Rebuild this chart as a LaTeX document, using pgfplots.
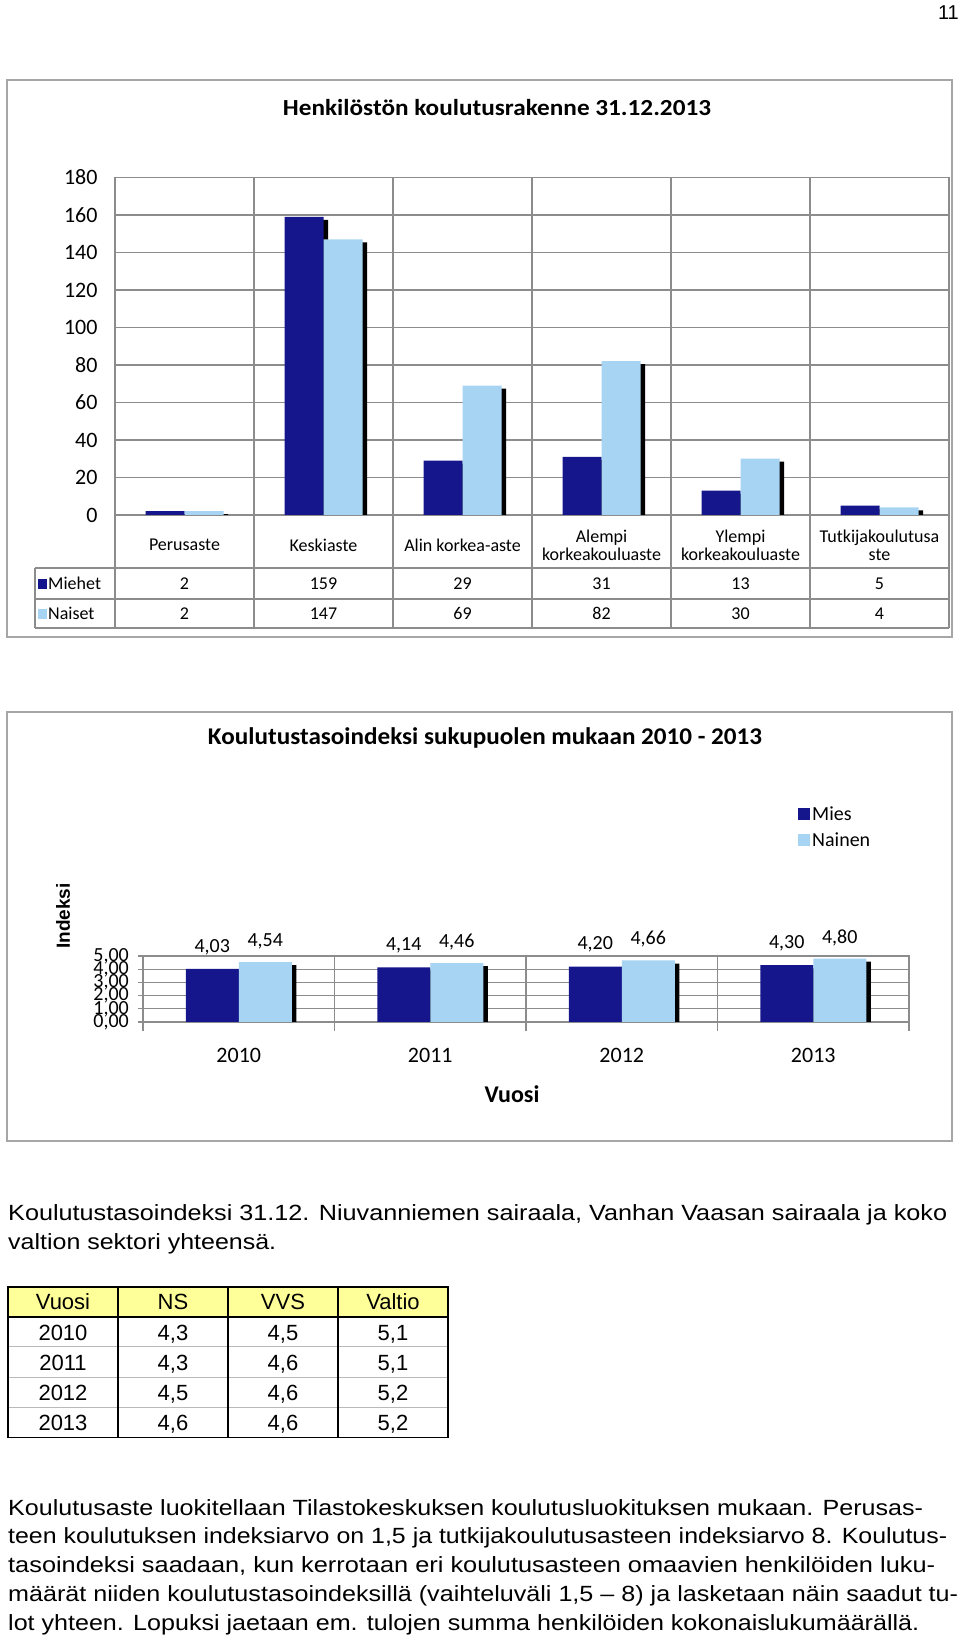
\documentclass[border=0pt]{standalone}
\usepackage{graphicx}
\usepackage{pgfplots}
\pgfplotsset{compat=1.18}
\usepackage{pgfplotstable}
\usepackage{fontspec}
\setmainfont{Liberation Sans}
\newfontfamily\calib{Carlito}
\definecolor{navy}{HTML}{16168C}
\definecolor{lblue}{HTML}{A8D4F4}
\definecolor{gridc}{HTML}{8C8C8C}
\definecolor{framec}{HTML}{A6A6A6}
\definecolor{hdr}{HTML}{FFFF99}
\newcommand{\fw}[2]{\resizebox{#1}{\height}{#2}}
\newcommand{\fs}[1]{\fontsize{#1}{#1}\selectfont}

\pgfplotstableread{
x m n
0 2 2
1 159 147
2 29 69
3 31 82
4 13 30
5 5 4
}\dataA
\pgfplotstableread{
x m n
0 4.03 4.54
1 4.14 4.46
2 4.20 4.66
3 4.30 4.80
}\dataB

\begin{document}
\begin{tikzpicture}
\path[use as bounding box, fill=white] (0pt,0pt) rectangle (960pt,1642pt);
% page number
\node[anchor=east, font=\fs{20}, inner sep=0pt] at (959pt,1629pt) {11};

% ================= Chart 1 =================
\draw[framec, line width=2pt] (7pt,1005pt) rectangle (952pt,1562pt);
\node[font=\calib\bfseries\fs{23}] at (497pt,1534pt) {\fw{428pt}{Henkilöstön koulutusrakenne 31.12.2013}};
\begin{axis}[at={(115pt,1127pt)}, anchor=south west, scale only axis,
  width=834pt, height=337.5pt,
  xmin=-0.5, xmax=5.5, ymin=0, ymax=180,
  ytick={0,20,...,180}, xtick={0,...,5},
  /pgf/number format/assume math mode=true,
  xticklabels={Perusaste, Keskiaste, Alin korkea-aste, {Alempi\\korkeakouluaste}, {Ylempi\\korkeakouluaste}, {Tutkijakoulutusa\\ste}},
  xticklabel style={font=\calib\fs{18}, align=center, anchor=center, yshift=-26pt},
  yticklabel style={font=\calib\fs{22}, anchor=east, xshift=-14pt},
  ymajorgrids, minor xtick={0.5,1.5,...,4.5}, xminorgrids,
  major grid style={gridc, line width=1.2pt}, minor grid style={gridc, line width=1.2pt},
  axis line style={gridc, line width=1.2pt},
  tick style={draw=none},
  ybar, bar width=39pt, clip=false,
]
\addplot[fill=black, draw=none, bar shift=-15pt] table[x=x, y expr=\thisrow{m}-1.6] {\dataA};
\addplot[fill=black, draw=none, bar shift=24pt] table[x=x, y expr=\thisrow{n}-1.6] {\dataA};
\addplot[fill=navy, draw=none, bar shift=-19.5pt] table[x=x, y=m] {\dataA};
\addplot[fill=lblue, draw=none, bar shift=19.5pt] table[x=x, y=n] {\dataA};
\end{axis}
\foreach \k in {0,...,6} \draw[gridc, line width=1.2pt] ({115pt+139pt*\k},1014pt) -- ({115pt+139pt*\k},1127pt);
\draw[gridc, line width=1.2pt] (35pt,1074pt) -- (949pt,1074pt) (35pt,1043pt) -- (949pt,1043pt) (35pt,1014pt) -- (949pt,1014pt) (35pt,1014pt) -- (35pt,1074pt);
\fill[navy] (38pt,1053pt) rectangle (47pt,1063pt);
\node[anchor=west, font=\calib\fs{18}, inner sep=1pt] at (47pt,1058.5pt) {Miehet};
\fill[lblue] (38pt,1023pt) rectangle (47pt,1033pt);
\node[anchor=west, font=\calib\fs{18}, inner sep=1pt] at (47pt,1028.5pt) {Naiset};
\foreach \v [count=\i from 0] in {2,159,29,31,13,5} \node[font=\calib\fs{18}] at ({115pt+139pt*(\i+0.5)},1058.5pt) {\v};
\foreach \v [count=\i from 0] in {2,147,69,82,30,4} \node[font=\calib\fs{18}] at ({115pt+139pt*(\i+0.5)},1028.5pt) {\v};

% ================= Chart 2 =================
\draw[framec, line width=2pt] (7pt,501pt) rectangle (952pt,930pt);
\node[font=\calib\bfseries\fs{24}] at (485pt,904pt) {\fw{554pt}{Koulutustasoindeksi sukupuolen mukaan 2010 - 2013}};
\fill[navy] (798pt,822pt) rectangle (810pt,834pt);
\node[anchor=west, font=\calib\fs{20}, inner sep=2pt] at (810pt,828.4pt) {Mies};
\fill[lblue] (798pt,796pt) rectangle (810pt,808pt);
\node[anchor=west, font=\calib\fs{20}, inner sep=2pt] at (810pt,802pt) {Nainen};
\node[rotate=90, font=\bfseries\fs{19}] at (63pt,726pt) {Indeksi};
\begin{axis}[at={(143pt,620pt)}, anchor=south west, scale only axis,
  width=766pt, height=66pt,
  xmin=-0.5, xmax=3.5, ymin=0, ymax=5,
  ytick={0,...,5}, xtick={0,...,3}, xticklabels={2010,2011,2012,2013},
  /pgf/number format/assume math mode=true,
  yticklabel={\pgfmathprintnumber[fixed, fixed zerofill, precision=2, use comma, assume math mode=true]{\tick}},
  xticklabel style={font=\calib\fs{22}, anchor=center, yshift=-29pt},
  yticklabel style={font=\calib\fs{20}, anchor=east, xshift=-14pt, inner sep=0pt},
  ymajorgrids, minor xtick={0.5,1.5,2.5}, xminorgrids,
  major grid style={gridc, line width=1.2pt}, minor grid style={gridc, line width=1.2pt},
  axis line style={gridc, line width=1.2pt},
  tick style={draw=none},
  ybar, bar width=53pt, clip=false,
]
\addplot[fill=black, draw=none, bar shift=-22pt] table[x=x, y expr=\thisrow{m}-0.23] {\dataB};
\addplot[fill=black, draw=none, bar shift=31pt] table[x=x, y expr=\thisrow{n}-0.23] {\dataB};
\addplot[fill=navy, draw=none, bar shift=-26.5pt, point meta=y,
  nodes near coords={\pgfmathprintnumber[fixed, fixed zerofill, precision=2, use comma, assume math mode=true]{\pgfplotspointmeta}},
  nodes near coords style={font=\calib\fs{20}, anchor=center, yshift=22pt, black}] table[x=x, y=m] {\dataB};
\addplot[fill=lblue, draw=none, bar shift=26.5pt, point meta=y,
  nodes near coords={\pgfmathprintnumber[fixed, fixed zerofill, precision=2, use comma, assume math mode=true]{\pgfplotspointmeta}},
  nodes near coords style={font=\calib\fs{20}, anchor=center, yshift=21pt, black}] table[x=x, y=n] {\dataB};
\end{axis}
\foreach \k in {0,...,4} \draw[gridc, line width=1.2pt] ({143pt+191.5pt*\k},611pt) -- ({143pt+191.5pt*\k},620pt);
\foreach \k in {0,...,5} \draw[gridc, line width=1.2pt] (138pt,{620pt+13.2pt*\k}) -- (143pt,{620pt+13.2pt*\k});
\node[font=\calib\bfseries\fs{24}] at (512pt,548pt) {Vuosi};

% ================= Text =================
\node[anchor=base west, inner sep=0pt, font=\fs{22}] at (8pt,421pt) {\fw{939pt}{Koulutustasoindeksi 31.12. Niuvanniemen sairaala, Vanhan Vaasan sairaala ja koko}};
\node[anchor=base west, inner sep=0pt, font=\fs{22}] at (8pt,392pt) {\fw{268pt}{valtion sektori yhteensä.}};

% table
\fill[hdr] (8pt,325pt) rectangle (448pt,355pt);
\draw[gridc!60, line width=1pt] (8pt,295pt) -- (448pt,295pt) (8pt,264.5pt) -- (448pt,264.5pt) (8pt,234pt) -- (448pt,234pt);
\draw[black, line width=1.3pt] (8pt,204.5pt) rectangle (448pt,355pt) (8pt,325pt) -- (448pt,325pt);
\foreach \xx in {118,228,338} \draw[black, line width=1.3pt] (\xx pt,204.5pt) -- (\xx pt,355pt);
\foreach \a/\b/\c/\d [count=\r from 0] in {Vuosi/NS/VVS/Valtio, 2010/{4,3}/{4,5}/{5,1}, 2011/{4,3}/{4,6}/{5,1}, 2012/{4,5}/{4,6}/{5,2}, 2013/{4,6}/{4,6}/{5,2}} {
  \node[anchor=base, inner sep=0pt, font=\fs{22}] at (63pt, {332pt-30.1pt*\r}) {\a};
  \node[anchor=base, inner sep=0pt, font=\fs{22}] at (173pt, {332pt-30.1pt*\r}) {\b};
  \node[anchor=base, inner sep=0pt, font=\fs{22}] at (283pt, {332pt-30.1pt*\r}) {\c};
  \node[anchor=base, inner sep=0pt, font=\fs{22}] at (393pt, {332pt-30.1pt*\r}) {\d};
}

% paragraph
\node[anchor=base west, inner sep=0pt, font=\fs{22}] at (8pt,126pt) {\fw{915pt}{Koulutusaste luokitellaan Tilastokeskuksen koulutusluokituksen mukaan. Perusas-}};
\node[anchor=base west, inner sep=0pt, font=\fs{22}] at (8pt,98pt) {\fw{939pt}{teen koulutuksen indeksiarvo on 1,5 ja tutkijakoulutusasteen indeksiarvo 8. Koulutus-}};
\node[anchor=base west, inner sep=0pt, font=\fs{22}] at (8pt,69pt) {\fw{927pt}{tasoindeksi saadaan, kun kerrotaan eri koulutusasteen omaavien henkilöiden luku-}};
\node[anchor=base west, inner sep=0pt, font=\fs{22}] at (8pt,40pt) {\fw{950pt}{määrät niiden koulutustasoindeksillä (vaihteluväli 1,5 – 8) ja lasketaan näin saadut tu-}};
\node[anchor=base west, inner sep=0pt, font=\fs{22}] at (8pt,11pt) {\fw{911pt}{lot yhteen. Lopuksi jaetaan em. tulojen summa henkilöiden kokonaislukumäärällä.}};
\end{tikzpicture}
\end{document}
